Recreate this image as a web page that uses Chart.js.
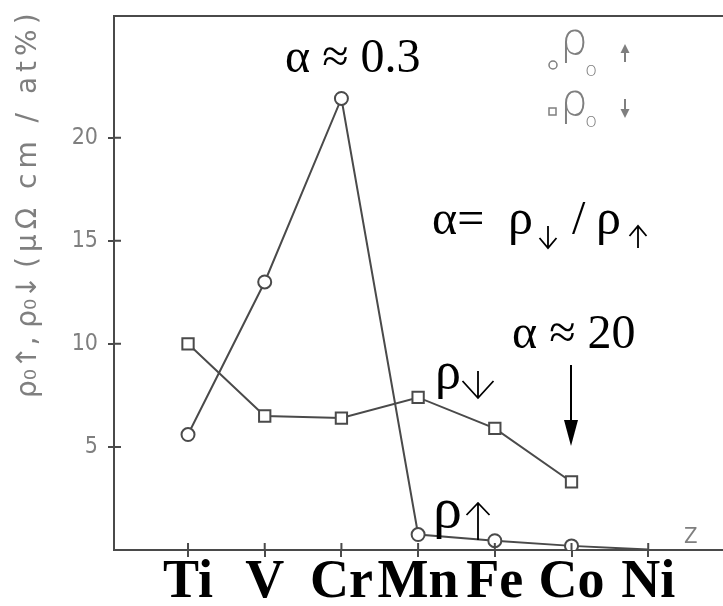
<!DOCTYPE html>
<html>
<head>
<meta charset="utf-8">
<script src="https://cdn.jsdelivr.net/npm/chart.js@4/dist/chart.umd.min.js"></script>
<style>
  html, body { margin: 0; padding: 0; background: #fff; overflow: hidden; }
  #grafico { display: block; }
</style>
</head>
<body>
<canvas id="grafico" width="723" height="606"></canvas>
<script>
// elementos 3d y resistividad residual por spin
const elementos = ['Ti', 'V', 'Cr', 'Mn', 'Fe', 'Co', 'Ni'];
const numeroZ = [22, 23, 24, 25, 26, 27, 28];
const rhoArriba = [5.6, 13.0, 21.9, 0.75, 0.45, 0.2, 0.02];
const rhoAbajo = [10.0, 6.5, 6.4, 7.4, 5.9, 3.3];
const ticksY = [5, 10, 15, 20];

const gris = '#4a4a4a';
const grisClaro = '#7f7f7f';
const serif = '"Liberation Serif", "Times New Roman", serif';
const sans = '"DejaVu Sans Condensed", "Liberation Sans Narrow", "DejaVu Sans", sans-serif';

function texto(ctx, txt, x, y, size, color) {
    ctx.fillStyle = color;
    ctx.textBaseline = 'alphabetic';
    ctx.textAlign = 'left';
    ctx.font = size + 'px ' + serif;
    ctx.fillText(txt, x, y);
}

// flecha fina con punta abierta (arriba o abajo segun y1 -> y2)
function flechita(ctx, x, y1, y2, ancho, largo) {
    const dir = y2 > y1 ? 1 : -1;
    ctx.beginPath();
    ctx.moveTo(x, y1);
    ctx.lineTo(x, y2);
    ctx.moveTo(x - ancho / 2, y2 - dir * largo);
    ctx.lineTo(x, y2);
    ctx.lineTo(x + ancho / 2, y2 - dir * largo);
    ctx.stroke();
}

// flecha pequeña rellena para la leyenda
function flechaLlena(ctx, x, y1, y2) {
    const dir = y2 > y1 ? 1 : -1;
    ctx.beginPath();
    ctx.moveTo(x, y1);
    ctx.lineTo(x, y2 - dir * 6);
    ctx.stroke();
    ctx.beginPath();
    ctx.moveTo(x - 4.5, y2 - dir * 9);
    ctx.lineTo(x + 4.5, y2 - dir * 9);
    ctx.lineTo(x, y2);
    ctx.closePath();
    ctx.fill();
}

const anotaciones = {
    id: 'anotaciones',
    afterDatasetsDraw(chart) {
        const ctx = chart.ctx;
        const area = chart.chartArea;
        const ejeX = chart.scales.x;
        const ejeY = chart.scales.y;
        ctx.save();

        // marco superior
        ctx.strokeStyle = gris;
        ctx.lineWidth = 2;
        ctx.beginPath();
        ctx.moveTo(area.left, area.top);
        ctx.lineTo(area.right, area.top);
        ctx.stroke();

        // parte interior de las marcas de los ejes
        ctx.beginPath();
        numeroZ.forEach(z => {
            const px = ejeX.getPixelForValue(z);
            ctx.moveTo(px, area.bottom);
            ctx.lineTo(px, area.bottom - 7);
        });
        ticksY.forEach(v => {
            const py = ejeY.getPixelForValue(v);
            ctx.moveTo(area.left, py);
            ctx.lineTo(area.left + 7, py);
        });
        ctx.stroke();

        // titulo del eje y
        ctx.save();
        ctx.fillStyle = grisClaro;
        ctx.textAlign = 'left';
        ctx.textBaseline = 'alphabetic';
        ctx.font = '28px "DejaVu Sans", sans-serif';
        ctx.translate(36, 398);
        ctx.rotate(-Math.PI / 2);
        ctx.fillText('ρ\u2080\u2191, ρ\u2080\u2193', 0, 0);
        ctx.restore();
        ctx.save();
        ctx.fillStyle = grisClaro;
        ctx.textAlign = 'left';
        ctx.textBaseline = 'alphabetic';
        ctx.font = '28px "DejaVu Sans", sans-serif';
        ctx.letterSpacing = '5px';
        ctx.translate(36, 268);
        ctx.rotate(-Math.PI / 2);
        ctx.fillText('(μΩ cm / at%)', 0, 0);
        ctx.restore();

        // leyenda
        ctx.fillStyle = grisClaro;
        ctx.strokeStyle = grisClaro;
        ctx.lineWidth = 1.5;
        ctx.beginPath();
        ctx.arc(553, 65, 4, 0, Math.PI * 2);
        ctx.stroke();
        ctx.strokeRect(549, 108, 7, 7);
        ctx.textAlign = 'left';
        ctx.textBaseline = 'alphabetic';
        ctx.font = '200 44px "DejaVu Sans", sans-serif';
        ctx.fillText('ρ', 560, 54);
        ctx.fillText('ρ', 560, 115);
        ctx.font = '200 20px "DejaVu Sans", sans-serif';
        ctx.fillText('o', 585, 76);
        ctx.fillText('o', 585, 127);
        ctx.lineWidth = 2;
        flechaLlena(ctx, 625, 62, 44);
        flechaLlena(ctx, 625, 99, 118);

        // Z
        ctx.font = '22px ' + sans;
        ctx.fillText('Z', 684, 543);

        // textos
        texto(ctx, 'α ≈ 0.3', 285, 72, 48, '#000');
        texto(ctx, 'α=', 432, 234, 48, '#000');
        texto(ctx, 'ρ', 508, 234, 50, '#000');
        texto(ctx, '/', 572, 234, 48, '#000');
        texto(ctx, 'ρ', 596, 234, 50, '#000');
        texto(ctx, 'α ≈ 20', 512, 348, 48, '#000');
        texto(ctx, 'ρ', 435, 388, 52, '#000');
        texto(ctx, 'ρ', 433, 527, 58, '#000');

        ctx.strokeStyle = '#000';
        ctx.fillStyle = '#000';
        ctx.lineWidth = 1.8;
        flechita(ctx, 548, 226, 248, 17, 10);
        flechita(ctx, 638, 248, 226, 17, 10);
        flechita(ctx, 478, 371, 398, 31, 17);
        flechita(ctx, 478, 540, 503, 23, 12);

        // flecha hacia Co
        ctx.lineWidth = 2;
        ctx.beginPath();
        ctx.moveTo(571, 365);
        ctx.lineTo(571, 425);
        ctx.stroke();
        ctx.beginPath();
        ctx.moveTo(564, 420);
        ctx.lineTo(578, 420);
        ctx.lineTo(571, 446);
        ctx.closePath();
        ctx.fill();

        ctx.restore();
    }
};

function sinRelleno(scale) {
    scale.paddingLeft = 0;
    scale.paddingRight = 0;
    scale.paddingTop = 0;
    scale.paddingBottom = 0;
}

new Chart(document.getElementById('grafico'), {
    type: 'line',
    data: {
        datasets: [
            {
                label: 'ρ0 ↑',
                data: numeroZ.map((z, i) => ({ x: z, y: rhoArriba[i] })),
                borderColor: gris,
                borderWidth: 2,
                pointStyle: 'circle',
                pointRadius: rhoArriba.map((v, i) => i === rhoArriba.length - 1 ? 0 : 6.5),
                pointBorderWidth: 2,
                pointBorderColor: gris,
                pointBackgroundColor: '#fff',
                tension: 0,
            },
            {
                label: 'ρ0 ↓',
                data: rhoAbajo.map((v, i) => ({ x: numeroZ[i], y: v })),
                borderColor: gris,
                borderWidth: 2,
                pointStyle: 'rect',
                pointRadius: 8,
                pointBorderWidth: 2,
                pointBorderColor: gris,
                pointBackgroundColor: '#fff',
                tension: 0,
            },
        ],
    },
    options: {
        responsive: false,
        animation: false,
        layout: { autoPadding: false, padding: { top: 16, right: 0, left: 0, bottom: 0 } },
        plugins: {
            legend: { display: false },
            tooltip: { enabled: false },
        },
        scales: {
            x: {
                type: 'linear',
                min: 21.035,
                max: 28.975,
                afterBuildTicks: (scale) => { scale.ticks = numeroZ.map(v => ({ value: v })); },
                afterFit: (scale) => { scale.height = 56; sinRelleno(scale); },
                border: { color: gris, width: 2 },
                grid: { drawOnChartArea: false, tickLength: 7, color: gris, lineWidth: 2 },
                ticks: {
                    color: '#000',
                    padding: -6,
                    maxRotation: 0,
                    autoSkip: false,
                    font: { family: serif, size: 54, weight: 'bold' },
                    callback: (v) => elementos[numeroZ.indexOf(v)],
                },
            },
            y: {
                min: 0,
                max: 25.9,
                afterBuildTicks: (scale) => { scale.ticks = ticksY.map(v => ({ value: v })); },
                afterFit: (scale) => { scale.width = 114; sinRelleno(scale); },
                border: { color: gris, width: 2 },
                grid: { drawOnChartArea: false, tickLength: 6, color: gris, lineWidth: 2 },
                ticks: {
                    color: grisClaro,
                    padding: 10,
                    font: { family: sans, size: 23 },
                },
            },
        },
    },
    plugins: [anotaciones],
});
</script>
</body>
</html>
